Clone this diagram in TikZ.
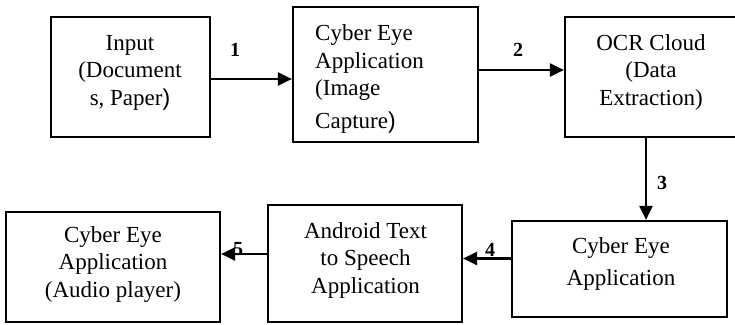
\documentclass[tikz,border=0pt]{standalone}
\usepackage{fontspec}
\setmainfont{Liberation Serif}
\newfontfamily\parenfont{Liberation Sans}
\usetikzlibrary{arrows.meta}
\begin{document}
\begin{tikzpicture}[x=1pt,y=-1pt,
  box/.style={draw, line width=2.2pt, inner sep=0pt},
  txt/.style={font=\fontsize{23}{27.5}\selectfont, align=center, anchor=base, inner sep=0pt},
  num/.style={font=\fontsize{20}{24}\selectfont\bfseries, inner sep=0pt},
  arr/.style={line width=2.2pt, -{Triangle[length=14pt,width=13pt]}}]
\useasboundingbox (0,0) rectangle (735,324);
% boxes
\node[box, minimum width=159pt, minimum height=120pt] (b1) at (130.5,77) {};
\node[box, minimum width=185pt, minimum height=135pt] (b2) at (385.5,74.5) {};
\node[box, minimum width=175pt, minimum height=120pt] (b3) at (652.5,77) {};
\node[box, minimum width=215pt, minimum height=96pt] (b4) at (619.5,269) {};
\node[box, minimum width=194pt, minimum height=117pt] (b5) at (365,263.5) {};
\node[box, minimum width=214pt, minimum height=110pt] (b6) at (113,267) {};
% texts (anchor base = baseline of last line)
\node[txt] (t1) at (130,105) {Input\\(Document\\s, Paper{\parenfont)}};
\node[txt, align=left, anchor=base west] (t2) at (315,128) {Cyber Eye\\Application\\(Image\\[5pt]Capture{\parenfont)}};
\node[txt] (t3) at (651,105) {OCR Cloud\\(Data\\Extraction)};
\node[txt] (t4) at (621,285) {Cyber Eye\\[4pt]Application};
\node[txt] (t5) at (365.5,293) {Android Text\\to Speech\\Application};
\node[txt] (t6) at (113,297) {Cyber Eye\\Application\\(Audio player)};
% connectors
\coordinate (c3) at (646,137);
\draw[arr] ([yshift=-2pt]b1.east) -- ([yshift=-2pt]b1.east -| b2.west);
\draw[arr] ([yshift=4.5pt]b2.east) -- ([yshift=4.5pt]b2.east -| b3.west);
\draw[arr] (b3.south -| c3) -- (b4.north -| c3);
\draw[arr] ([yshift=10.5pt]b4.west) -- ([yshift=10.5pt]b4.west -| b5.east);
\draw[arr] ([yshift=9.5pt]b5.west) -- ([yshift=9.5pt]b5.west -| b6.east);
% labels
\node[num] (n1) at (235,50) {1};
\node[num] (n2) at (518,50) {2};
\node[num] (n3) at (662,182.5) {3};
\node[num] (n4) at (490,249.5) {4};
\node[num] (n5) at (238,249.5) {5};
\end{tikzpicture}
\end{document}
